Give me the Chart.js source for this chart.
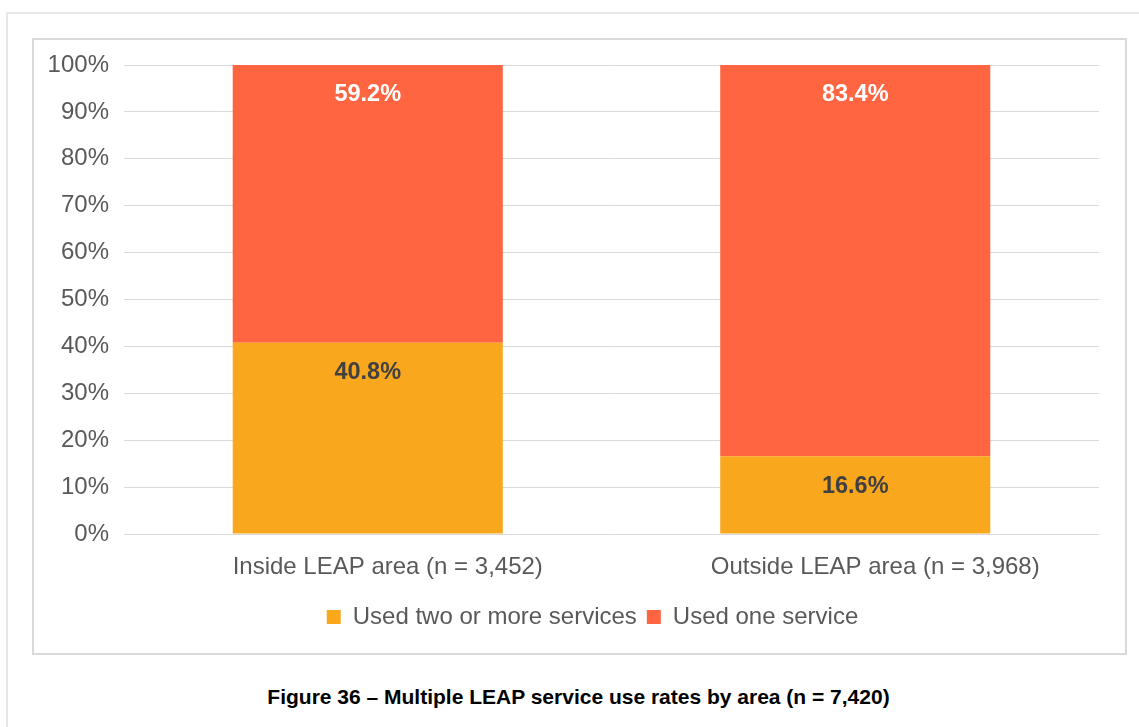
<!DOCTYPE html>
<html>
<head>
<meta charset="utf-8">
<script src="https://cdn.jsdelivr.net/npm/chart.js@4.4.1/dist/chart.umd.min.js"></script>
<style>
  html, body { margin: 0; padding: 0; background: #fff; }
  body { width: 1139px; height: 727px; position: relative; overflow: hidden; font-family: "Liberation Sans", Arial, sans-serif; }
  .page-frame { position: absolute; left: 6px; top: 12px; width: 1200px; height: 800px; border-left: 2px solid #e8e8e8; border-top: 2px solid #e8e8e8; }
  .chart-box { position: absolute; left: 32px; top: 38px; width: 1091px; height: 613px; border: 2px solid #d9d9d9; }
  .chart-box canvas { display: block; }
  .caption { position: absolute; left: 0; width: 1157px; top: 685px; text-align: center; font-weight: bold; font-size: 21px; color: #000; }
</style>
</head>
<body>
<div class="page-frame"></div>
<div class="chart-box"><canvas id="leapChart" width="1091" height="613"></canvas></div>
<div class="caption">Figure 36 – Multiple LEAP service use rates by area (n = 7,420)</div>

<script>
const areas = ['Inside LEAP area (n = 3,452)', 'Outside LEAP area (n = 3,968)'];
const usedTwoOrMore = [40.8, 16.6];
const usedOne = [59.2, 83.4];
const seriesNames = ['Used two or more services', 'Used one service'];
const yTicks = [0, 10, 20, 30, 40, 50, 60, 70, 80, 90, 100];

const labelColors = ['#404040', '#ffffff'];
const FONT = '"Liberation Sans", Arial, sans-serif';

// value labels near the top of each stacked segment
const segmentLabels = {
    id: 'segmentLabels',
    afterDatasetsDraw(chart) {
        const ctx = chart.ctx;
        ctx.save();
        ctx.font = 'bold 23.5px ' + FONT;
        ctx.textAlign = 'center';
        ctx.textBaseline = 'middle';
        chart.data.datasets.forEach((ds, i) => {
            const meta = chart.getDatasetMeta(i);
            meta.data.forEach((bar, j) => {
                ctx.fillStyle = labelColors[i];
                ctx.fillText(ds.data[j].toFixed(1) + '%', bar.x, bar.y + 30);
            });
        });
        ctx.restore();
    }
};

// legend sits a little right of the canvas centre
const legendShift = {
    id: 'legendShift',
    afterLayout(chart) {
        if (chart.legend) chart.legend.left += 52;
    }
};

const ctx = document.getElementById('leapChart').getContext('2d');
new Chart(ctx, {
    type: 'bar',
    data: {
        labels: areas,
        datasets: [
            { label: seriesNames[0], data: usedTwoOrMore, backgroundColor: '#f9a81e' },
            { label: seriesNames[1], data: usedOne, backgroundColor: '#ff6540' }
        ]
    },
    options: {
        responsive: false,
        animation: false,
        layout: { padding: { top: 25, right: 26, bottom: 14, left: 0 } },
        datasets: { bar: { categoryPercentage: 1, barPercentage: 0.554 } },
        scales: {
            x: {
                stacked: true,
                afterFit: scale => { scale.height = 61; },
                grid: { display: false, drawTicks: false },
                border: { display: false },
                ticks: { color: '#595959', font: { size: 24, family: FONT }, padding: 19, labelOffset: 20 }
            },
            y: {
                stacked: true,
                min: 0,
                max: 100,
                afterFit: scale => {
                    scale.width = 90;
                    scale.paddingTop = 0;
                    scale.paddingBottom = 0;
                },
                afterBuildTicks: scale => { scale.ticks = yTicks.map(v => ({ value: v })); },
                grid: { color: '#d9d9d9', lineWidth: 1, drawTicks: false },
                border: { display: false },
                ticks: {
                    color: '#595959',
                    padding: 15,
                    font: { size: 24, family: FONT },
                    callback: v => v + '%'
                }
            }
        },
        plugins: {
            legend: {
                position: 'bottom',
                labels: {
                    color: '#595959',
                    boxWidth: 14,
                    boxHeight: 14,
                    padding: 10,
                    font: { size: 24, family: FONT }
                }
            },
            tooltip: { enabled: false }
        }
    },
    plugins: [segmentLabels, legendShift]
});
</script>
</body>
</html>
